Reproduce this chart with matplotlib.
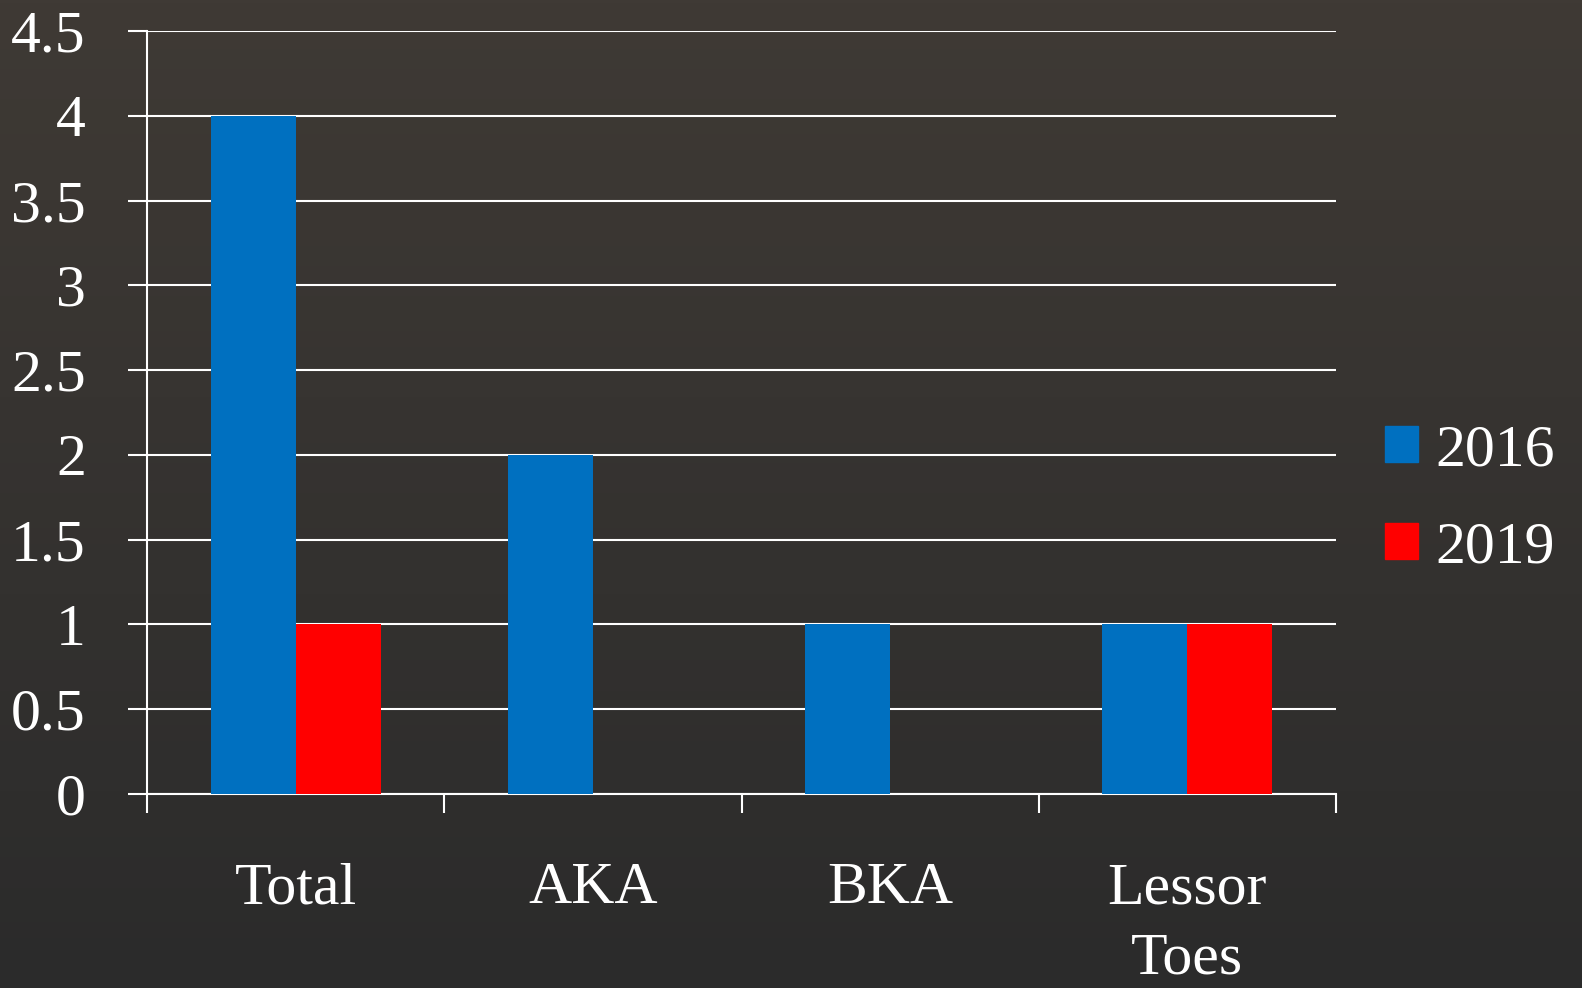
import numpy as np
import matplotlib.pyplot as plt
from matplotlib.patches import Patch

categories = ['Total', 'AKA', 'BKA', 'Lessor\nToes']
series_names = ['2016', '2019']
values_2016 = [4, 2, 1, 1]
values_2019 = [1, 0, 0, 1]
colors = ['#0070C0', '#FF0000']

plt.rcParams['font.family'] = ['Liberation Serif', 'DejaVu Serif']
fs = 43

fig = plt.figure(figsize=(15.82, 9.88), dpi=100)

# dark gradient background
bg = fig.add_axes([0, 0, 1, 1], zorder=-10)
grad = np.linspace(0, 1, 256).reshape(-1, 1)
top = np.array([63, 58, 53]) / 255
bot = np.array([43, 43, 43]) / 255
img = top + (bot - top) * grad[..., None]
bg.imshow(img, aspect='auto', extent=[0, 1, 0, 1])
bg.axis('off')

ax = fig.add_axes([147 / 1582, 1 - 794 / 988, (1336 - 147) / 1582, (794 - 31) / 988])
ax.patch.set_alpha(0)

x = np.arange(len(categories))
w = 0.286
ax.bar(x - w / 2, values_2016, w, color=colors[0], zorder=3)
ax.bar(x + w / 2, values_2019, w, color=colors[1], zorder=3)

ax.set_xlim(-0.5, len(categories) - 0.5)
ax.set_ylim(0, 4.5)
ax.set_yticks(np.arange(0, 4.51, 0.5))
ax.set_yticklabels(['0', '0.5', '1', '1.5', '2', '2.5', '3', '3.5', '4', '4.5'])
ax.yaxis.grid(True, color='white', linewidth=1.5, zorder=1)

ax.set_xticks(np.arange(-0.5, len(categories), 1.0))
ax.set_xticklabels([])
ax.set_xticks(x, minor=True)
ax.set_xticklabels(categories, minor=True, linespacing=1.4)
ax.tick_params(axis='x', which='major', length=14, width=1.5, color='white', direction='out')
ax.tick_params(axis='x', which='minor', length=0, pad=49, labelsize=fs, labelcolor='white')
ax.tick_params(axis='y', length=14, width=1.5, color='white', pad=30, labelsize=fs, labelcolor='white')

for s in ['top', 'right']:
    ax.spines[s].set_visible(False)
for s in ['left', 'bottom']:
    ax.spines[s].set_color('white')
    ax.spines[s].set_linewidth(1.5)

handles = [Patch(color=c) for c in colors]
fig.legend(handles, series_names, loc='upper left', bbox_to_anchor=(1385 / 1582, 1 - 424 / 988),
           frameon=False, fontsize=fs, labelcolor='white', handlelength=0.55, handleheight=0.55,
           handletextpad=0.3, labelspacing=0.73, borderpad=0, borderaxespad=0)

fig.savefig('out.png', dpi=100)
